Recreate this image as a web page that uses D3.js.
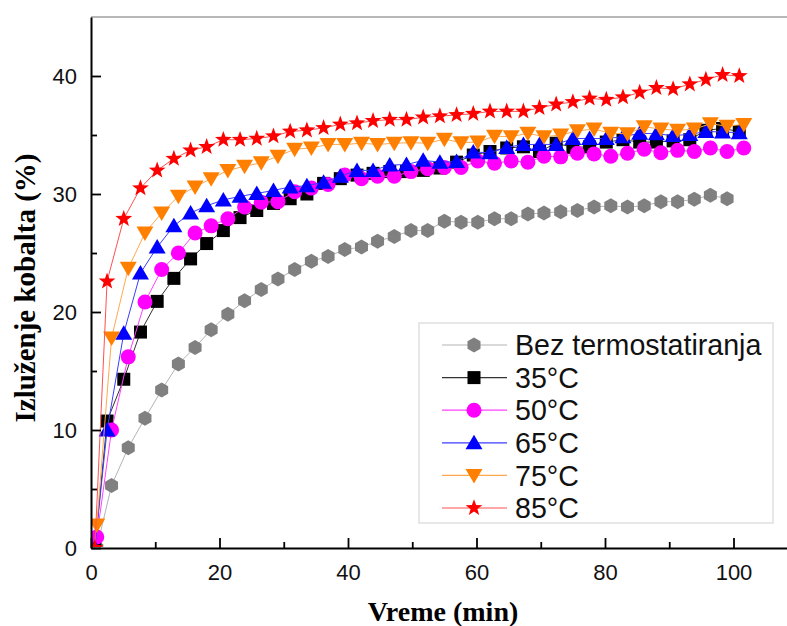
<!DOCTYPE html>
<html><head><meta charset="utf-8">
<script src="https://cdn.jsdelivr.net/npm/d3@7"></script>
<style>body{margin:0;background:#fff}svg{display:block}</style>
</head><body><svg id="c" width="787" height="626"></svg>
<script>
// time grids (min)
const timeA = [0.6,2.5,5.1,7.7,10.3,12.9,15.5,18.0,20.6,23.2,25.8,28.4,31.0,33.6,36.2,38.8,41.4,43.9,46.5,49.1,51.7,54.3,56.9,59.5,62.1,64.7,67.3,69.8,72.4,75.0,77.6,80.2,82.8,85.4,88.0,90.6,93.2,95.7,98.3,100.9];
const timeB = [0.9,3.2,5.8,8.4,11.0,13.6,16.2,18.7,21.3,23.9,26.5,29.1,31.7,34.3,36.9,39.5,42.1,44.6,47.2,49.8,52.4,55.0,57.6,60.2,62.8,65.4,68.0,70.5,73.1,75.7,78.3,80.9,83.5,86.1,88.7,91.3,93.9,96.4,99.0,101.6];
// series values (%)
const bezTermo = [0,5.3,8.5,11.0,13.4,15.6,17.0,18.5,19.8,20.95,21.9,22.8,23.6,24.3,24.7,25.3,25.5,26.0,26.4,26.9,26.9,27.7,27.6,27.6,27.9,27.9,28.3,28.4,28.5,28.6,28.9,29.0,28.9,29.0,29.35,29.35,29.55,29.9,29.6];
const c35 = [0,10.76,14.3,18.3,20.9,22.85,24.5,25.8,26.9,28.0,28.6,29.2,29.6,30.0,30.9,31.3,31.6,31.75,31.9,31.9,32.0,32.2,32.7,33.3,33.6,33.9,34.0,33.6,34.3,33.95,34.0,34.4,34.6,34.4,34.4,34.5,34.6,35.4,35.55,35.3];
const c50 = [0.93,10.0,16.2,20.85,23.6,25.0,26.7,27.3,27.9,28.9,29.3,29.35,30.2,30.5,30.8,31.6,31.3,31.5,31.5,31.9,32.15,32.25,32.25,32.8,32.6,32.8,32.7,33.2,33.15,33.45,33.4,33.2,33.45,33.8,33.5,33.7,33.6,33.9,33.6,33.9];
const c65 = [0,10.0,18.2,23.3,25.5,27.3,28.4,29.0,29.5,29.8,30.05,30.3,30.6,30.7,31.0,31.5,32.0,32.0,32.45,32.5,32.85,32.7,32.75,33.55,33.5,33.95,34.2,34.2,34.2,34.7,34.7,34.7,34.85,35.15,35.1,34.95,35.05,35.3,35.25,35.2];
const c75 = [1.95,17.8,23.7,26.7,28.4,29.8,30.6,31.3,32.0,32.35,32.65,33.2,33.8,33.9,34.2,34.2,34.3,34.2,34.3,34.35,34.3,34.65,34.35,34.4,34.9,34.85,35.15,34.85,35.0,35.35,35.5,35.15,35.1,35.7,35.5,35.4,35.5,35.95,35.75,35.9];
const c85 = [0,22.6,27.9,30.5,32.0,33.0,33.7,34.0,34.6,34.6,34.7,34.9,35.3,35.4,35.6,35.9,36.0,36.2,36.3,36.3,36.5,36.6,36.7,36.8,37.0,37.0,37.0,37.3,37.6,37.8,38.1,38.0,38.2,38.6,39.0,38.9,39.3,39.7,40.1,40.0];
const seriesNames = ["Bez termostatiranja","35°C","50°C","65°C","75°C","85°C"];
const xTicks = [0,20,40,60,80,100];
const xMinor = [10,30,50,70,90];
const yTicks = [0,10,20,30,40];
const yMinor = [5,15,25,35];

const series = [
  {name:seriesNames[0], t:timeB, v:bezTermo, fill:"#808080", line:"#b4b4b4", shape:"hex"},
  {name:seriesNames[1], t:timeA, v:c35, fill:"#000000", line:"#333333", shape:"square"},
  {name:seriesNames[2], t:timeB, v:c50, fill:"#ff00ff", line:"#ff40ff", shape:"circle"},
  {name:seriesNames[3], t:timeA, v:c65, fill:"#0000ff", line:"#3c3cff", shape:"up"},
  {name:seriesNames[4], t:timeB, v:c75, fill:"#ff8000", line:"#ffa850", shape:"down"},
  {name:seriesNames[5], t:timeA, v:c85, fill:"#ff0000", line:"#ff5050", shape:"star"}
];

const svg = d3.select("#c");
const x = d3.scaleLinear().domain([0,110]).range([91, 91+6.425*110]);
const y = d3.scaleLinear().domain([0,45]).range([548, 548-45*11.8]);

svg.append("defs").append("clipPath").attr("id","plotclip").append("rect")
  .attr("x",92).attr("y",0).attr("width",800).attr("height",547);

function shapePath(s){
  if(s==="hex"){const R=7.5;return d3.range(6).map(k=>{const a=(-90+60*k)*Math.PI/180;return (k?"L":"M")+(R*Math.cos(a)).toFixed(2)+","+(R*Math.sin(a)).toFixed(2);}).join("")+"Z";}
  if(s==="square") return "M-6.5,-6.5h13v13h-13Z";
  if(s==="up") return "M0,-8L8.5,6.5L-8.5,6.5Z";
  if(s==="down") return "M0,8L8.5,-6.5L-8.5,-6.5Z";
  if(s==="star"){const Ro=8.8,Ri=3.6;return d3.range(10).map(k=>{const r=k%2?Ri:Ro;const a=(-90+36*k)*Math.PI/180;return (k?"L":"M")+(r*Math.cos(a)).toFixed(2)+","+(r*Math.sin(a)).toFixed(2);}).join("")+"Z";}
  if(s==="circle") return d3.symbol(d3.symbolCircle, Math.PI*7.5*7.5)();
}

// top frame line
svg.append("line").attr("x1",91).attr("x2",787).attr("y1",y(45)).attr("y2",y(45)).attr("stroke","#a0a0a0").attr("stroke-width",1.5);

// series
const line = d3.line();
const plot = svg.append("g").attr("clip-path","url(#plotclip)");
series.forEach(s=>{
  const pts = s.v.map((v,i)=>[x(s.t[i]), y(v)]);
  const g = plot.append("g");
  g.append("path").attr("d", line(pts)).attr("fill","none").attr("stroke",s.line).attr("stroke-width",1);
  g.selectAll("path.m").data(pts).join("path").attr("class","m")
    .attr("d", shapePath(s.shape)).attr("transform",d=>`translate(${d[0]},${d[1]})`)
    .attr("fill",s.fill);
});

// axes
const fontTick = "'Liberation Sans', Arial, sans-serif";
const xa = svg.append("g").attr("transform","translate(0,548)")
  .call(d3.axisBottom(x).tickValues(xTicks).tickSize(-10).tickSizeOuter(0).tickPadding(16).tickFormat(d3.format("d")));
const xm = svg.append("g").attr("transform","translate(0,548)")
  .call(d3.axisBottom(x).tickValues(xMinor).tickSize(-6).tickSizeOuter(0).tickFormat(""));
xm.select(".domain").remove();
const ya = svg.append("g").attr("transform","translate(91,0)")
  .call(d3.axisLeft(y).tickValues(yTicks).tickSize(-10).tickSizeOuter(0).tickPadding(14).tickFormat(d3.format("d")));
const ym = svg.append("g").attr("transform","translate(91,0)")
  .call(d3.axisLeft(y).tickValues(yMinor).tickSize(-6).tickSizeOuter(0).tickFormat(""));
ym.select(".domain").remove();
[xa,ya,xm,ym].forEach(a=>{
  a.selectAll(".domain").attr("stroke","#000").attr("stroke-width",2);
  a.selectAll(".tick line").attr("stroke","#000").attr("stroke-width",1.8);
  a.selectAll("text").attr("font-family",fontTick).attr("font-size",22).attr("fill","#111");
});

// axis titles
svg.append("text").attr("x",443).attr("y",621).attr("text-anchor","middle")
  .attr("font-family","'Liberation Serif','Times New Roman',serif").attr("font-weight","bold").attr("font-size",28)
  .text("Vreme (min)");
svg.append("text").attr("transform","translate(35,288) rotate(-90)").attr("text-anchor","middle")
  .attr("font-family","'Liberation Serif','Times New Roman',serif").attr("font-weight","bold").attr("font-size",29)
  .text("Izluženje kobalta (%)");

// legend
const lg = svg.append("g");
lg.append("rect").attr("x",419).attr("y",323).attr("width",354).attr("height",200).attr("fill","#fff").attr("stroke","#d8d8d8").attr("stroke-width",1.2);
series.forEach((s,i)=>{
  const yy = 345 + i*32.6;
  lg.append("line").attr("x1",442).attr("x2",507).attr("y1",yy).attr("y2",yy).attr("stroke",s.line).attr("stroke-width",1.2);
  lg.append("path").attr("d",shapePath(s.shape)).attr("transform",`translate(474,${yy})`).attr("fill",s.fill);
  lg.append("text").attr("x",515).attr("y",yy).attr("dy","0.36em").attr("font-family",fontTick).attr("font-size",28.6).attr("fill","#111").text(s.name);
});
</script></body></html>
